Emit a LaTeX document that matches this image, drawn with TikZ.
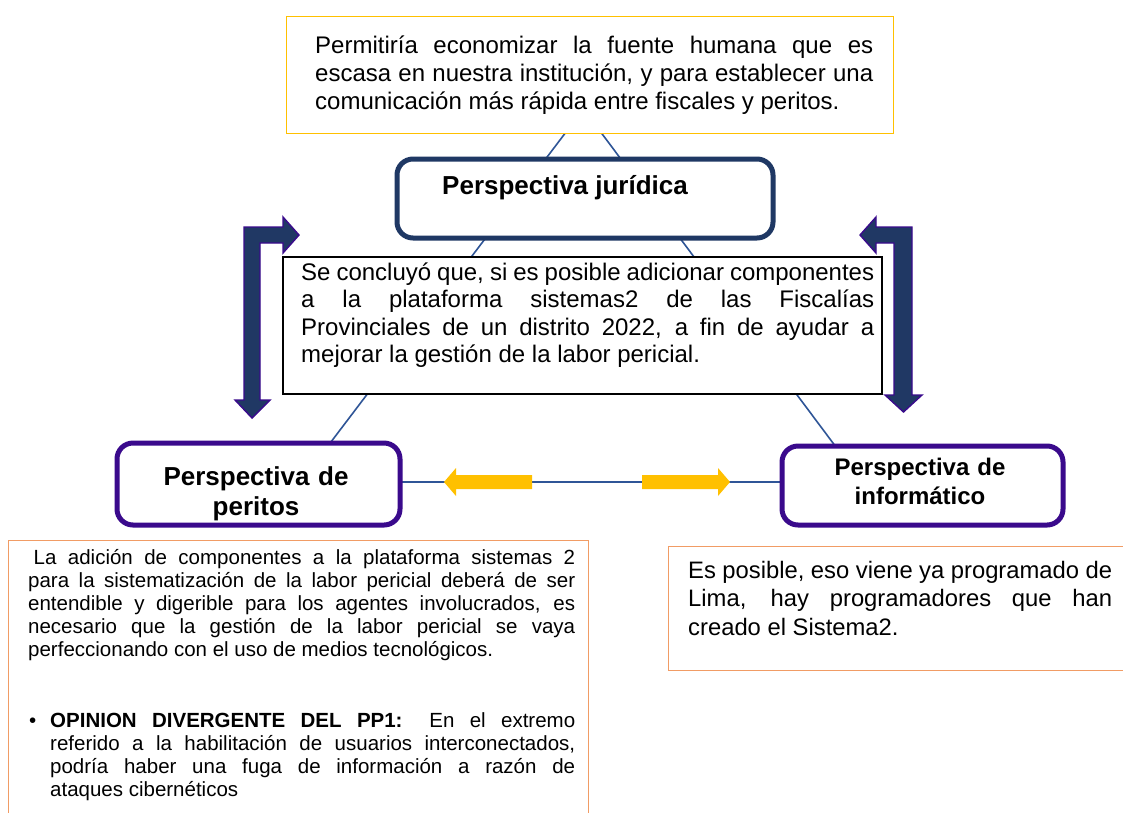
\documentclass[tikz,border=0pt]{standalone}
\usepackage{fontspec}
\setmainfont{Liberation Sans}
\tolerance=9999
\hbadness=10000
\definecolor{yellowc}{HTML}{FFC000}
\definecolor{navyc}{HTML}{1F3864}
\definecolor{purplec}{HTML}{3A0A8C}
\definecolor{tric}{HTML}{2F5597}
\definecolor{orangec}{HTML}{F19C65}
\definecolor{arrowfill}{HTML}{203864}
\begin{document}
\begin{tikzpicture}[x=1pt,y=-1pt,
  frame/.style={inner sep=0pt, anchor=north west, fill=white},
  txt/.style={inner sep=0pt, anchor=base west, align=justify},
  ctxt/.style={inner sep=0pt, anchor=base, align=center},
  persp/.style={frame, draw=purplec, line width=5pt, rounded corners=16pt},
  triline/.style={draw=tric, line width=1.6pt},
  bentarrow/.style={fill=arrowfill, draw=purplec, line width=1.4pt, line join=miter},
  yarrow/.style={fill=yellowc}]
\clip (0,0) rectangle (1123,812);
\fill[white] (0,0) rectangle (1123,812);

% triangle behind the boxes
\coordinate (apex) at (583.5,109);
\coordinate (bl) at (300.6,482);
\coordinate (br) at (862.1,482);
\draw[triline] (apex) -- (bl) -- (br) -- cycle;

% top box
\node[frame, draw=yellowc, line width=1.2pt, minimum width=607pt, minimum height=117pt] (topbox) at (286,16) {};
\node[txt, text width=558pt, font=\fontsize{24}{28}\selectfont] (toptext) at (315,53) {%
Permitiría economizar la fuente humana que es\linebreak
escasa en nuestra institución, y para establecer una\linebreak
comunicación más rápida entre fiscales y peritos.\par};

% perspectiva juridica
\node[frame, draw=navyc, line width=5pt, rounded corners=16pt, minimum width=376pt, minimum height=79pt] (jur) at (394.5,156.5) {};
\node[inner sep=0pt, anchor=base west, font=\fontsize{26}{30}\selectfont\bfseries] (jurtext) at (442,194) {Perspectiva jurídica};

% conclusion box
\node[frame, draw=black, line width=1.5pt, minimum width=599pt, minimum height=137pt] (concl) at (282,256) {};
\node[txt, text width=573pt, font=\fontsize{24}{27.5}\selectfont] (concltext) at (301,280) {%
Se concluyó que, si es posible adicionar componentes\linebreak
a la plataforma sistemas2 de las Fiscalías\linebreak
Provinciales de un distrito 2022, a fin de ayudar a\linebreak
mejorar la gestión de la labor pericial.\par};

% perspectiva de peritos
\node[persp, minimum width=283pt, minimum height=82pt] (peritos) at (114.5,440.5) {};
\node[ctxt, text width=280pt, font=\fontsize{26}{30}\selectfont\bfseries] (peritostext) at (256,485) {Perspectiva de\\peritos};

% perspectiva de informatico
\node[persp, minimum width=281pt, minimum height=79pt] (informatico) at (779.5,443.5) {};
\node[ctxt, text width=278pt, font=\fontsize{24}{29}\selectfont\bfseries] (infotext) at (920,475) {Perspectiva de\\informático};

% yellow arrows on the base line
\fill[yarrow] (444,482) -- (456,468) -- (456,475) -- (532,475) -- (532,489) -- (456,489) -- (456,496) -- cycle;
\fill[yarrow] (730,482) -- (718,468) -- (718,475) -- (642,475) -- (642,489) -- (718,489) -- (718,496) -- cycle;

% bent arrows
\draw[bentarrow] (244,227) -- (283,227) -- (283,217) -- (299,235) -- (283,253) -- (283,243) -- (260,243) -- (260,400) -- (270,400) -- (252,418) -- (235,400) -- (244,400) -- cycle;
\draw[bentarrow] (912,227) -- (876,227) -- (876,217) -- (860,235) -- (876,253) -- (876,243) -- (894,243) -- (894,395) -- (885,395) -- (903.5,412) -- (922,395) -- (912,395) -- cycle;

% bottom left box
\node[frame, draw=orangec, line width=1.3pt, minimum width=580pt, minimum height=300pt] (leftbox) at (8,540) {};
\node[txt, text width=547pt, font=\fontsize{20.5}{23}\selectfont] (lefttext) at (28,564) {%
\hspace*{5.5pt}La adición de componentes a la plataforma sistemas 2\linebreak
para la sistematización de la labor pericial deberá de ser\linebreak
entendible y digerible para los agentes involucrados, es\linebreak
necesario que la gestión de la labor pericial se vaya\linebreak
perfeccionando con el uso de medios tecnológicos.\par
\vskip 48pt
\hangindent=22pt \hangafter=1
\noindent\makebox[22pt][l]{\hspace{1pt}•}\textbf{OPINION DIVERGENTE DEL PP1:} En el extremo\linebreak
referido a la habilitación de usuarios interconectados,\linebreak
podría haber una fuga de información a razón de\linebreak
ataques cibernéticos\par};

% bottom right box
\node[frame, draw=orangec, line width=1.3pt, minimum width=480pt, minimum height=123.5pt] (rightbox) at (668,546) {};
\node[txt, text width=424pt, font=\fontsize{23.8}{28.5}\selectfont] (righttext) at (688,578) {%
Es posible, eso viene ya programado de\linebreak
Lima, hay programadores que han\linebreak
creado el Sistema2.\par};
\end{tikzpicture}
\end{document}
